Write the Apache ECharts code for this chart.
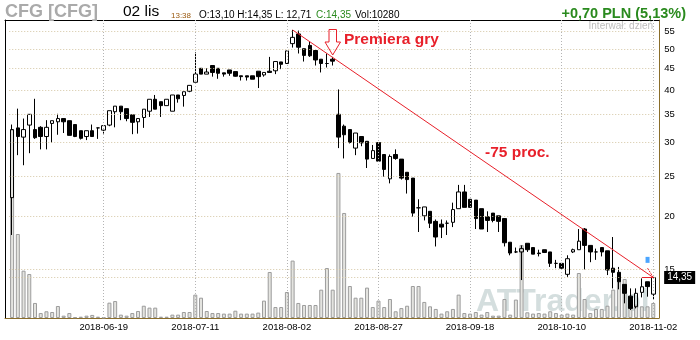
<!DOCTYPE html>
<html><head><meta charset="utf-8">
<script src="https://cdn.jsdelivr.net/npm/echarts@6/dist/echarts.min.js"></script>
<style>html,body{margin:0;padding:0;background:#fff}#c{width:700px;height:340px}</style>
</head><body><div id="c"></div>
<script>
const dates = ['2018-05-25','2018-05-28','2018-05-29','2018-05-30','2018-06-01','2018-06-04','2018-06-05','2018-06-06','2018-06-07','2018-06-08',
'2018-06-11','2018-06-12','2018-06-13','2018-06-14','2018-06-15','2018-06-18','2018-06-19','2018-06-20','2018-06-21','2018-06-22',
'2018-06-25','2018-06-26','2018-06-27','2018-06-28','2018-06-29','2018-07-02','2018-07-03','2018-07-04','2018-07-05','2018-07-06',
'2018-07-09','2018-07-10','2018-07-11','2018-07-12','2018-07-13','2018-07-16','2018-07-17','2018-07-18','2018-07-19','2018-07-20',
'2018-07-23','2018-07-24','2018-07-25','2018-07-26','2018-07-27','2018-07-30','2018-07-31','2018-08-01','2018-08-02','2018-08-03',
'2018-08-06','2018-08-07','2018-08-08','2018-08-09','2018-08-10','2018-08-13','2018-08-14','2018-08-16','2018-08-17','2018-08-20',
'2018-08-21','2018-08-22','2018-08-23','2018-08-24','2018-08-27','2018-08-28','2018-08-29','2018-08-30','2018-08-31','2018-09-03',
'2018-09-04','2018-09-05','2018-09-06','2018-09-07','2018-09-10','2018-09-11','2018-09-12','2018-09-13','2018-09-14','2018-09-17',
'2018-09-18','2018-09-19','2018-09-20','2018-09-21','2018-09-24','2018-09-25','2018-09-26','2018-09-27','2018-09-28','2018-10-01',
'2018-10-02','2018-10-03','2018-10-04','2018-10-05','2018-10-08','2018-10-09','2018-10-10','2018-10-11','2018-10-12','2018-10-15',
'2018-10-16','2018-10-17','2018-10-18','2018-10-19','2018-10-22','2018-10-23','2018-10-24','2018-10-25','2018-10-26','2018-10-29',
'2018-10-30','2018-10-31','2018-11-02'];

const opens = [22.2,32.5,30.9,33.0,32.2,32.6,31.0,33.3,33.6,34.2,
33.8,33.1,32.0,31.0,32.0,32.5,32.1,33.0,35.5,36.6,
36.1,34.9,33.6,34.4,35.6,38.0,37.5,36.7,35.6,38.9,
38.8,39.7,41.7,45.0,43.6,45.7,45.0,43.9,44.6,44.2,
43.2,43.2,43.2,44.3,43.4,44.3,44.4,46.6,46.2,51.5,
54.3,50.1,51.0,49.6,47.3,46.2,47.3,35.0,32.8,32.2,
29.1,31.0,30.2,27.5,30.0,28.1,24.6,28.1,27.4,25.5,
24.7,21.0,20.1,20.6,19.5,19.2,19.3,19.4,20.9,22.9,
22.0,21.9,20.9,20.0,20.4,20.1,19.8,17.4,16.5,16.5,
17.3,16.9,16.4,16.7,16.5,15.5,15.5,14.6,16.5,16.7,
18.7,17.1,16.5,16.9,16.6,15.1,14.76,13.82,12.96,12.23,
13.23,14.02,13.10];
const closes = [32.2,31.0,32.2,35.0,30.8,31.0,32.6,33.8,34.2,33.6,
31.2,31.0,30.7,32.0,31.0,32.5,32.9,35.7,36.6,35.5,
34.2,33.5,34.2,36.0,38.0,36.0,36.7,38.0,38.9,38.1,
39.6,41.0,43.6,43.6,44.1,44.0,43.8,43.6,43.8,43.1,
43.0,42.9,42.4,43.0,44.0,44.0,46.7,46.0,49.5,53.3,
50.5,48.3,48.2,47.1,46.2,46.2,46.8,30.9,31.3,30.0,
31.6,29.95,27.4,28.7,27.1,25.9,27.8,27.5,24.7,24.5,
20.4,21.0,21.1,19.3,17.9,18.9,19.3,20.8,22.9,21.05,
21.05,19.8,18.7,19.6,19.6,19.5,17.35,16.4,16.5,16.8,
16.7,16.3,16.35,16.45,15.5,15.5,15.1,15.9,16.7,17.5,
17.1,16.5,16.5,16.5,14.95,14.76,14.02,13.16,12.12,13.16,
13.64,13.65,14.35];
const lows = [18.1,28.0,26.5,28.3,30.6,28.9,28.9,29.95,31.3,31.6,
31.2,30.9,30.5,30.4,31.0,30.6,31.5,32.8,32.6,33.9,
33.7,31.4,31.5,32.5,34.5,36.0,34.5,36.7,35.6,37.3,
36.5,39.5,41.7,43.6,43.6,43.0,42.5,43.0,43.2,43.0,
42.1,42.1,42.4,40.4,43.0,44.0,43.6,44.8,46.2,50.4,
48.8,46.7,47.9,45.7,44.0,45.2,45.7,29.1,27.5,29.85,
28.0,29.4,26.1,27.5,27.1,24.9,24.0,27.3,24.5,22.7,
20.0,18.4,19.6,18.8,17.0,17.8,18.1,18.9,20.9,21.05,
21.05,18.7,18.7,18.4,19.4,18.4,17.0,16.2,16.4,14.15,
16.5,16.3,16.1,16.4,15.2,15.1,15.0,14.4,16.4,16.7,
15.0,15.6,15.8,16.1,14.54,13.52,13.45,12.46,12.01,12.12,
12.87,12.92,12.71];
const highs = [33.1,36.1,34.2,35.0,38.1,32.8,33.9,33.8,35.1,34.2,
33.8,33.1,32.0,32.0,33.1,32.5,32.9,35.7,36.6,36.6,
36.1,34.9,34.2,36.0,38.0,38.9,37.5,38.0,38.9,38.9,
39.6,41.0,49.1,45.0,45.0,45.7,45.0,43.9,44.6,44.2,
43.2,43.2,43.2,44.3,44.0,47.9,46.7,46.6,49.5,55.5,
55.3,50.1,52.2,49.6,47.3,48.8,47.9,40.1,33.1,32.2,
31.6,31.0,30.2,29.6,30.0,28.1,28.1,28.9,27.4,25.5,
24.7,22.0,21.1,20.6,19.7,19.7,19.6,21.6,23.8,23.8,
22.0,21.9,20.9,20.6,20.4,20.1,19.8,17.4,16.9,17.1,
17.3,16.9,16.7,16.7,16.5,15.8,15.5,16.2,16.8,18.7,
18.8,17.1,16.8,16.9,16.6,17.9,15.2,13.82,13.52,13.52,
14.28,14.02,14.35];
const volumes = [129000,57500,32400,30100,10300,3400,4600,4100,8200,1600,
3400,500,900,1600,2100,900,300,10500,11600,2300,
1600,3400,4800,8400,7100,7100,900,900,2300,2300,
4100,4100,16000,13900,4800,3400,3400,3000,3000,5000,
3000,3000,3000,3700,11900,31500,7500,7500,17800,39300,
10300,8900,8900,8900,19400,34200,19400,99300,71900,21900,
13900,13900,20800,7500,11900,7500,13000,4600,6800,8400,
21900,21900,11000,8000,6200,3000,4600,6200,16000,3400,
3000,4100,2300,4100,1600,1600,13000,2300,12600,50000,
3900,3000,3400,3000,4600,3400,2300,3000,2300,30800,
13000,3400,6200,6200,8400,19400,27400,26700,13700,9100,
8000,8000,10280];

const priceTicks = [15,20,25,30,35,40,45,50,55];
const lastPrice = 14.35;
const lastPriceLabel = '14,35';
const labelDates = ['2018-06-19','2018-07-11','2018-08-02','2018-08-27','2018-09-18','2018-10-10','2018-11-02'];
const trendStart = ['2018-08-03', 55.5];
const trendEnd = ['2018-11-02', 14.35];
const signalPoints = [['2018-10-31', 15.8]];

const RED = '#e8202a';
const GREEN = '#2a8a1e';
const BROWN = '#8a6d2a';
const FONT = 'Liberation Sans';

const chart = echarts.init(document.getElementById('c'), null, {renderer:'canvas'});

const gridLineItems = priceTicks.map(v => ({
  yAxis: v,
  lineStyle: {color:'#d4c6a4', type:[1,2], width:1},
  label: {show:true, position:'end', formatter:String(v), color:'#000', fontSize:9.5, fontFamily:FONT, distance:8}
}));
gridLineItems.push({
  yAxis: lastPrice,
  lineStyle: {color:'#d4c6a4', type:[1,2], width:1},
  label: {show:true, position:'end', formatter:lastPriceLabel, color:'#fff', backgroundColor:'#000',
          padding:[2,3,1,3], fontSize:10, fontFamily:FONT, distance:8}
});
labelDates.forEach(d => gridLineItems.push({
  xAxis: d,
  lineStyle: {color:'#b4b4b4', type:[1,2], width:1},
  label: {show:false}
}));

const option = {
  animation: false,
  backgroundColor: '#fff',
  grid: [
    {left: 9.24, top: 20, width: 646.9, height: 298},
    {left: 5, top: 20, right: 41, bottom: 22}
  ],
  xAxis: [
    {type:'category', gridIndex:0, data:dates, boundaryGap:true,
     axisLine:{show:false}, axisTick:{show:false}, splitLine:{show:false},
     axisLabel:{interval:(i, v) => labelDates.indexOf(v) >= 0, color:'#000', fontSize:9.5, fontFamily:FONT, margin:4}},
    {type:'value', gridIndex:1, position:'bottom', min:0, max:1,
     axisLine:{show:true, onZero:false, lineStyle:{color:BROWN, width:1}},
     axisTick:{show:false}, axisLabel:{show:false}, splitLine:{show:false}},
    {type:'value', gridIndex:1, position:'top', min:0, max:1,
     axisLine:{show:true, onZero:false, lineStyle:{color:'#000', width:1}},
     axisTick:{show:false}, axisLabel:{show:false}, splitLine:{show:false}}
  ],
  yAxis: [
    {type:'log', gridIndex:0, min:11.5, max:58.6, show:false},
    {type:'value', gridIndex:0, min:0, max:204000, show:false},
    {type:'value', gridIndex:1, position:'left', min:0, max:1,
     axisLine:{show:true, onZero:false, lineStyle:{color:'#000', width:1}},
     axisTick:{show:false}, axisLabel:{show:false}, splitLine:{show:false}},
    {type:'value', gridIndex:1, position:'right', min:0, max:1,
     axisLine:{show:true, onZero:false, lineStyle:{color:BROWN, width:1}},
     axisTick:{show:false}, axisLabel:{show:false}, splitLine:{show:false}}
  ],
  series: [
    {type:'line', xAxisIndex:0, yAxisIndex:0, data:[], z:0, silent:true,
     markLine:{symbol:['none','none'], silent:true, animation:false, data:gridLineItems}},
    {type:'bar', xAxisIndex:0, yAxisIndex:1, data:volumes, barWidth:4, z:1, silent:true,
     itemStyle:{color:'#e4e4e0', borderColor:'#9c9c9c', borderWidth:1}},
    {type:'candlestick', xAxisIndex:0, yAxisIndex:0, barWidth:4, z:3, silent:true,
     data: dates.map((d, i) => [opens[i], closes[i], lows[i], highs[i]]),
     itemStyle:{color:'rgba(255,255,255,0)', color0:'#000', borderColor:'#000', borderColor0:'#000',
                borderColorDoji:'#000', borderWidth:1},
     markLine:{symbol:['none','none'], silent:true, animation:false, label:{show:false},
       lineStyle:{color:RED, width:1, type:'solid'},
       data:[
         [{coord:trendStart}, {coord:trendEnd}],
         [{coord:['2018-10-30', lastPrice]}, {coord:trendEnd}],
         [{coord:['2018-10-31', 15.1], lineStyle:{type:[2,1], color:RED}}, {coord:trendEnd}]
       ]}},
    {type:'scatter', xAxisIndex:0, yAxisIndex:0, data:signalPoints, symbol:'rect', symbolSize:[4,6],
     itemStyle:{color:'#1e8fff'}, z:4, silent:true}
  ],
  graphic: [
    {type:'text', x:5, y:12, z:10, style:{text:'CFG [CFG]', font:'bold 18px '+FONT, fill:'#aaaaaa', verticalAlign:'middle'}},
    {type:'text', x:123, y:12, z:10, style:{text:'02 lis', font:'15.5px '+FONT, fill:'#000', verticalAlign:'middle'}},
    {type:'text', x:171, y:15.5, z:10, style:{text:'13:38', font:'8px '+FONT, fill:'#9a5a10', verticalAlign:'middle'}},
    {type:'text', x:199, y:15.5, z:10, style:{text:'O:13,10 H:14,35 L: 12,71', font:'10px '+FONT, fill:'#000', verticalAlign:'middle'}},
    {type:'text', x:316, y:15.5, z:10, style:{text:'C:14,35', font:'10px '+FONT, fill:GREEN, verticalAlign:'middle'}},
    {type:'text', x:355, y:15.5, z:10, style:{text:'Vol:10280', font:'10px '+FONT, fill:'#000', verticalAlign:'middle'}},
    {type:'text', x:686, y:13.5, z:10, style:{text:'+0,70 PLN (5,13%)', font:'bold 14.5px '+FONT, fill:GREEN, align:'right', verticalAlign:'middle'}},
    {type:'text', x:653, y:26.5, z:10, style:{text:'Interwał: dzień', font:'10px '+FONT, fill:'#bdbdbd', align:'right', verticalAlign:'middle'}},
    {type:'text', x:476, y:302, z:0, style:{text:'ATTrader.pl', font:'bold 32px '+FONT, fill:'rgba(205,216,216,0.85)', verticalAlign:'middle'}},
    {type:'text', x:344, y:40, z:10, style:{text:'Premiera gry', font:'bold 15.5px '+FONT, fill:RED, verticalAlign:'middle'}},
    {type:'text', x:485, y:152.5, z:10, style:{text:'-75 proc.', font:'bold 15.5px '+FONT, fill:RED, verticalAlign:'middle'}},
    {type:'polygon', z:10, shape:{points:[[329,29.5],[336.5,29.5],[336.5,42],[340.5,42],[332.7,55],[325,42],[329,42]]},
     style:{fill:'rgba(255,255,255,0)', stroke:RED, lineWidth:1}}
  ]
};
chart.setOption(option);
</script>
</body></html>
